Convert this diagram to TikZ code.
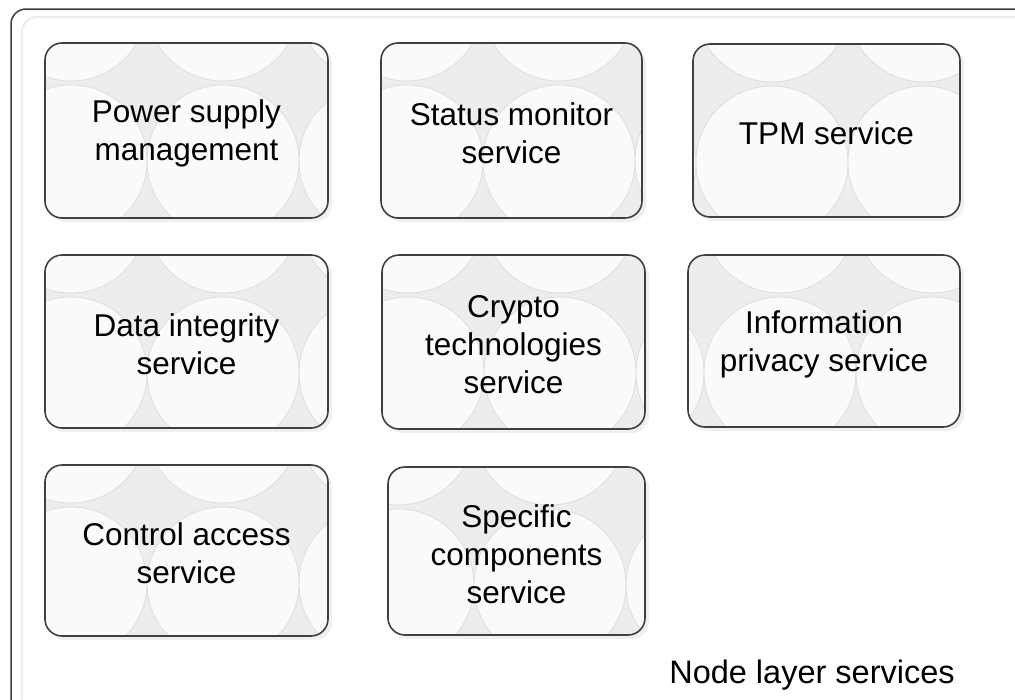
\documentclass[tikz,border=0pt]{standalone}
\usepackage{fontspec}
\setmainfont{Liberation Sans}
\begin{document}
\begin{tikzpicture}[x=1pt,y=-1pt,
  frame/.style={draw=black!75,line width=1.5pt,rounded corners=15pt},
  innerframe/.style={draw=black!7,line width=2pt,rounded corners=15pt},
  boxborder/.style={draw=black!75,line width=1.6pt,rounded corners=17pt},
  boxshadow/.style={fill=black!6,rounded corners=17pt},
  boxfill/.style={fill=black!7},
  bubble/.style={draw=black!17,line width=0.5pt,fill=black!2},
  boxtext/.style={align=center,font=\fontsize{31.5}{38}\selectfont,text=black,inner sep=0pt},
  layertext/.style={font=\fontsize{32.5}{39}\selectfont,text=black,inner sep=0pt}
]
\newcommand\svcbox[7]{%
  \fill[boxshadow] (#2+4,#3+4) rectangle (#4+4,#5+4);
  \begin{scope}
    \clip[rounded corners=17pt] (#2,#3) rectangle (#4,#5);
    \fill[boxfill] (#2,#3) rectangle (#4,#5);
    \foreach \k in {-1,0,1,2,3} {
      \draw[bubble] (#2+#6+\k*152, #3+118) circle (76pt);
      \draw[bubble] (#2+#6+\k*152, #3-38) circle (76pt);
    }
  \end{scope}
  \draw[boxborder] (#2,#3) rectangle (#4,#5);
  \node[boxtext] (#1) at ({(#2+#4)/2},{(#3+#5)/2+3}) {#7};
}
\useasboundingbox (0,0) rectangle (1015,699);
\clip (0,0) rectangle (1015,699);
\fill[white] (0,0) rectangle (1015,699);
\draw[innerframe] (22,17) rectangle (1040,725);
\draw[frame] (11,9) rectangle (1040,725);

\svcbox{power}{45}{43}{328}{218}{26}{Power supply\\management}
\svcbox{status}{381}{43}{642}{218}{26}{Status monitor\\service}
\svcbox{tpm}{693}{44}{960}{217}{-73}{TPM service}
\svcbox{integrity}{45}{255}{328}{428}{26}{Data integrity\\service}
\svcbox{crypto}{382}{255}{645}{429}{26}{Crypto\\technologies\\service}
\svcbox{privacy}{688}{255}{960}{427}{-60}{Information\\privacy service}
\svcbox{access}{45}{465}{328}{636}{26}{Control access\\service}
\svcbox{specific}{388}{467}{645}{635}{10}{Specific\\components\\service}

\node[layertext,anchor=base] (layer) at (812,683) {Node layer services};
\end{tikzpicture}
\end{document}
